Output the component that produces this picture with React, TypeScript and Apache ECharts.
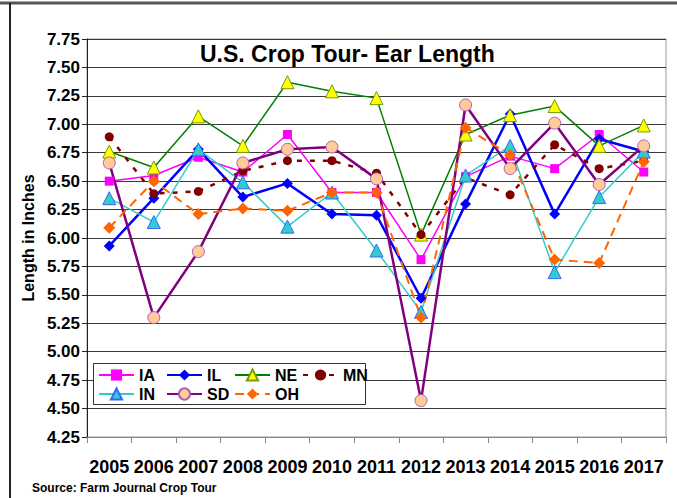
import React, { useEffect, useRef } from "react";
import * as echarts from "echarts";

const years = ["2005", "2006", "2007", "2008", "2009", "2010", "2011", "2012", "2013", "2014", "2015", "2016", "2017"];
const IA = [6.5, 6.55, 6.71, 6.58, 6.91, 6.4, 6.4, 5.81, 6.54, 6.72, 6.61, 6.91, 6.58];
const IL = [5.93, 6.35, 6.78, 6.36, 6.48, 6.21, 6.2, 5.47, 6.3, 7.09, 6.21, 6.87, 6.76];
const NE = [6.76, 6.62, 7.07, 6.81, 7.37, 7.29, 7.23, 6.03, 6.91, 7.08, 7.16, 6.81, 6.99];
const MN = [6.89, 6.39, 6.41, 6.59, 6.68, 6.68, 6.57, 6.03, 6.53, 6.38, 6.82, 6.61, 6.68];
const IN = [6.35, 6.14, 6.78, 6.49, 6.1, 6.4, 5.89, 5.35, 6.55, 6.81, 5.7, 6.36, 6.76];
const SD = [6.66, 5.3, 5.88, 6.66, 6.78, 6.8, 6.52, 4.57, 7.17, 6.61, 7.01, 6.47, 6.81];
const OH = [6.09, 6.5, 6.21, 6.26, 6.24, 6.4, 6.4, 5.3, 6.97, 6.73, 5.81, 5.78, 6.67];

const FONT = "'Liberation Sans', Arial, sans-serif";

export default function App() {
  const ref = useRef<HTMLDivElement>(null);
  useEffect(() => {
    if (!ref.current) return;
    const chart = echarts.init(ref.current, undefined, { renderer: "svg" });

    const mk = (name: string, data: number[], o: any) => ({
      name,
      type: "line",
      data,
      symbol: o.symbol,
      symbolSize: o.size,
      lineStyle: { color: o.line, width: o.width, type: o.dash || "solid" },
      itemStyle: { color: o.fill, borderColor: o.border || o.fill, borderWidth: o.bw || 0 },
      emphasis: { disabled: true },
    });

    const series = [
      mk("IA", IA, { symbol: "rect", size: 9, line: "#FF00FF", width: 1.5, fill: "#FF00FF" }),
      mk("IL", IL, { symbol: "diamond", size: 11, line: "#0000FF", width: 2.5, fill: "#0000FF" }),
      mk("NE", NE, { symbol: "triangle", size: 13, line: "#008000", width: 1.5, fill: "#FFFF00", border: "#7A9A00", bw: 1 }),
      mk("MN", MN, { symbol: "circle", size: 9, line: "#800000", width: 2.5, fill: "#800000", dash: [5, 8] }),
      mk("IN", IN, { symbol: "triangle", size: 13, line: "#33CCCC", width: 1.5, fill: "#33CCCC", border: "#3366FF", bw: 1 }),
      mk("SD", SD, { symbol: "circle", size: 12, line: "#800080", width: 2.5, fill: "#FFCC99", border: "#B060B0", bw: 1 }),
      mk("OH", OH, { symbol: "diamond", size: 12, line: "#FF6600", width: 2, fill: "#FF6600", dash: [9, 6] }),
    ];

    const cols = [98, 166, 234, 302];
    const rows = [367, 386];
    const legends = series.map((s, i) => ({
      data: [s.name],
      left: cols[i % 4],
      top: rows[Math.floor(i / 4)],
      orient: "horizontal",
      itemWidth: 35,
      itemHeight: 14,
      padding: 0,
      selectedMode: false,
      textStyle: { fontFamily: FONT, fontWeight: "bold", fontSize: 16, color: "#000" },
    }));

    chart.setOption({
      animation: false,
      backgroundColor: "#fff",
      title: {
        text: "U.S. Crop Tour- Ear Length",
        left: 200,
        top: 42,
        padding: 0,
        textStyle: { fontFamily: FONT, fontWeight: "bold", fontSize: 23, color: "#000" },
      },
      legend: legends,
      grid: { left: 87, right: 11, top: 39, bottom: 61, show: true, borderColor: "#999", borderWidth: 1, backgroundColor: "transparent" },
      xAxis: {
        type: "category",
        data: years,
        boundaryGap: true,
        axisLine: { lineStyle: { color: "#888", width: 1 } },
        axisTick: { show: true, length: 6, lineStyle: { color: "#888" } },
        axisLabel: { margin: 21, fontFamily: FONT, fontWeight: "bold", fontSize: 18, color: "#000", interval: 0 },
        splitLine: { show: false },
      },
      yAxis: {
        type: "value",
        min: 4.25,
        max: 7.75,
        interval: 0.25,
        name: "Length in Inches",
        nameLocation: "middle",
        nameGap: 51,
        nameRotate: 90,
        nameTextStyle: { fontFamily: FONT, fontWeight: "bold", fontSize: 16, color: "#000" },
        axisLine: { show: true, lineStyle: { color: "#222", width: 1 } },
        axisTick: { show: true, length: 5, lineStyle: { color: "#222" } },
        axisLabel: { margin: 7, fontFamily: FONT, fontWeight: "bold", fontSize: 17, color: "#000", formatter: (v: number) => v.toFixed(2) },
        splitLine: { show: true, lineStyle: { color: "#3a3a3a", width: 1 } },
      },
      graphic: [
        { type: "line", shape: { x1: 0, y1: 3, x2: 677, y2: 3 }, style: { stroke: "#555", lineWidth: 3 }, z: 10 },
        { type: "line", shape: { x1: 10, y1: 3, x2: 10, y2: 498 }, style: { stroke: "#222", lineWidth: 2 }, z: 10 },
        { type: "rect", shape: { x: 93.5, y: 363.5, width: 272, height: 41 }, style: { fill: "#fff", stroke: "#333", lineWidth: 1 }, z: 3 },
        {
          type: "text",
          left: 32,
          top: 482,
          style: { text: "Source: Farm Journal Crop Tour", font: `bold 12px ${FONT}`, fill: "#000" },
          z: 10,
        },
      ],
      series,
    });
    return () => chart.dispose();
  }, []);
  return <div ref={ref} style={{ position: "fixed", left: 0, top: 0, width: 677, height: 498 }} />;
}
